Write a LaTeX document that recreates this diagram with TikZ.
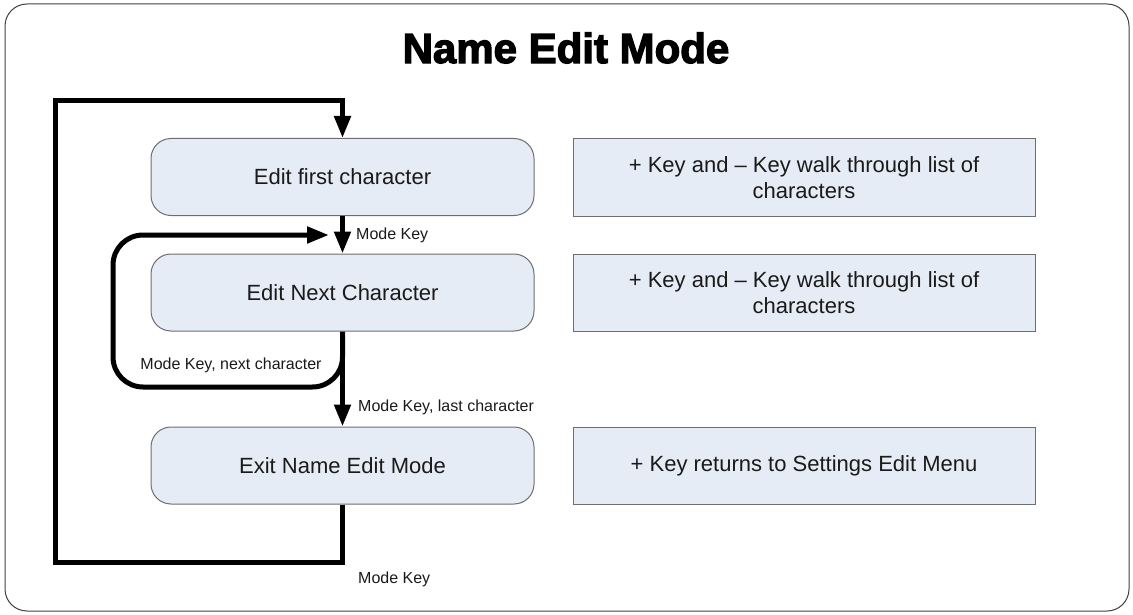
\documentclass[tikz,border=0pt]{standalone}
\usepackage{fontspec}
\setmainfont{Liberation Sans}
\newfontfamily\titlefont[FakeBold=3]{Liberation Sans Bold}
\usetikzlibrary{arrows.meta}
\definecolor{boxfill}{HTML}{E6ECF6}
\definecolor{boxline}{HTML}{6E6E6E}
\definecolor{txt}{HTML}{1A1A1A}
\tikzset{
  x=1pt, y=-1pt,
  statebox/.style={draw=boxline, line width=1pt, fill=boxfill, rounded corners=20pt,
    minimum width=383pt, minimum height=77pt, inner sep=0pt, font=\fontsize{22}{26}\selectfont, text=txt},
  notebox/.style={draw=boxline, line width=1pt, fill=boxfill,
    minimum width=462pt, minimum height=77pt, inner sep=0pt, align=center,
    font=\fontsize{22}{26}\selectfont, text=txt},
  flow/.style={line width=5pt, draw=black, -{Triangle[length=22pt,width=16pt]}},
  lbl/.style={font=\fontsize{16}{19}\selectfont, text=txt, inner sep=0pt}
}
\begin{document}
\begin{tikzpicture}
\useasboundingbox (0,0) rectangle (1133,615);
\draw[draw=black!75, line width=1pt, rounded corners=22pt] (5,4) rectangle (1129,611);
\node[font=\titlefont\fontsize{42}{46}\selectfont] (title) at (566,48) {Name Edit Mode};

\node[statebox] (s1) at (342.5,177) {Edit first character};
\node[statebox] (s2) at (342.5,292.5) {Edit Next Character};
\node[statebox] (s3) at (342.5,465.5) {Exit Name Edit Mode};

\node[notebox] (n1) at (804,177.5) {+ Key and -- Key walk through list of\\characters};
\node[notebox] (n2) at (804,292.5) {+ Key and -- Key walk through list of\\characters};
\node[notebox] (n3) at (804,465.5) {+ Key returns to Settings Edit Menu};

\coordinate (loopin) at (329,235);

% s1 -> s2
\draw[flow] (s1.south) -- (s2.north);
\node[lbl, anchor=west] (l1) at (356,235) {Mode Key};

% s2 -> s3
\draw[flow] (s2.south) -- (s3.north);
\node[lbl, anchor=west] (l2) at (358,407) {Mode Key, last character};

% loop s2 -> s2
\draw[flow, rounded corners=30pt] (s2.south) -- (342.5,387) -- (113,387) -- (113,235) -- (loopin);
\node[lbl] (l3) at (231,365) {Mode Key, next character};

% s3 -> s1
\draw[flow] (s3.south) -- (342.5,562) -- (55,562) -- (55,101) -- (342.5,101) -- (s1.north);
\node[lbl, anchor=west] (l4) at (358,579) {Mode Key};
\end{tikzpicture}
\end{document}
